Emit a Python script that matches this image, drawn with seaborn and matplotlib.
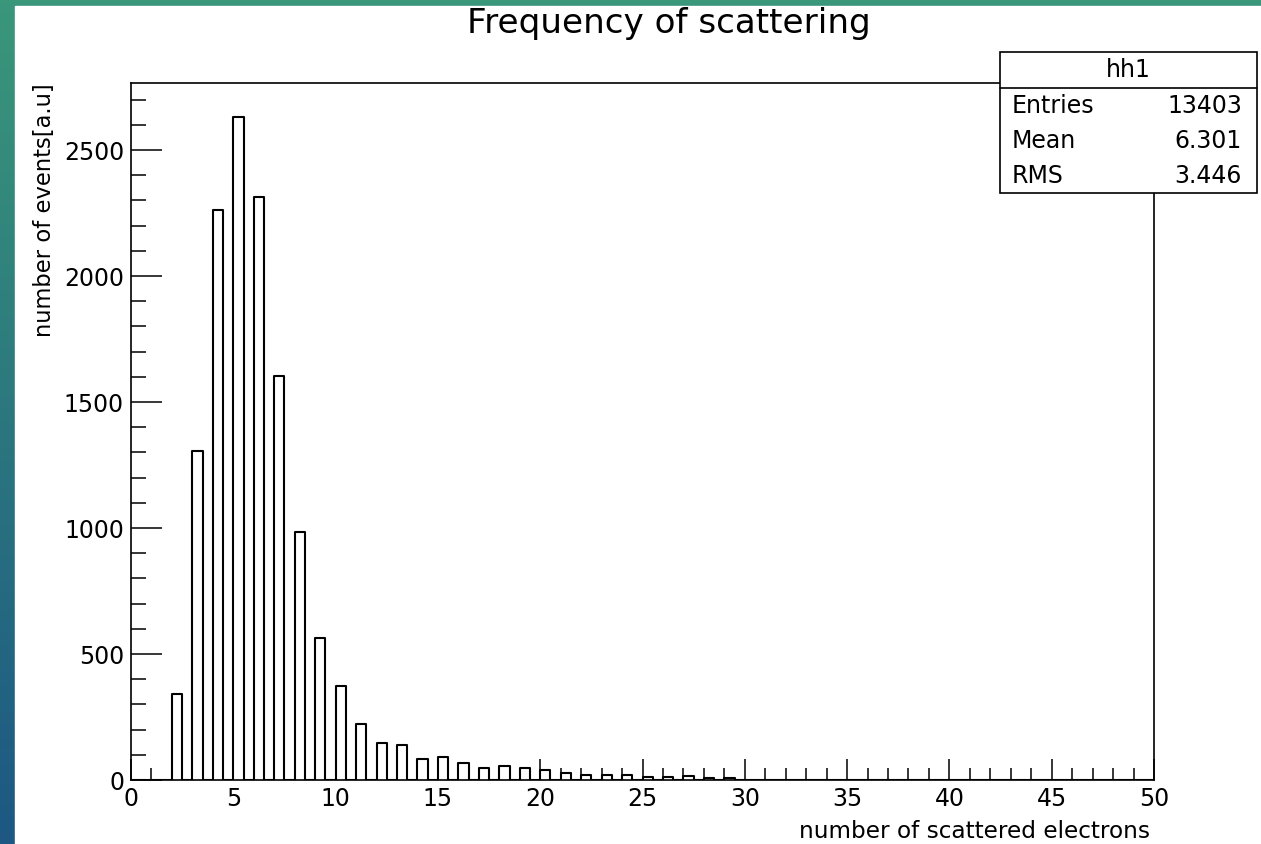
import numpy as np
import pandas as pd
import seaborn as sns
import matplotlib.pyplot as plt
from matplotlib.patches import Rectangle
from matplotlib.ticker import MultipleLocator

electrons = [2, 3, 4, 5, 6, 7, 8, 9, 10, 11, 12, 13, 14, 15, 16, 17, 18, 19,
             20, 21, 22, 23, 24, 25, 26, 27, 28, 29]
counts = [342, 1305, 2262, 2632, 2312, 1603, 984, 562, 373, 222, 148, 140,
          82, 90, 69, 46, 55, 46, 38, 26, 20, 18, 18, 10, 10, 14, 8, 8]
stats_names = ["Entries", "Mean", "RMS"]
stats_values = ["13403", "6.301", "3.446"]

df = pd.DataFrame({"electrons": electrons, "counts": counts})

sns.set_style("white")
plt.rcParams['font.family'] = ['DejaVu Sans']
for k in ['text.color', 'axes.labelcolor', 'xtick.color', 'ytick.color']:
    plt.rcParams[k] = 'black'

W, H = 1261, 844
fig = plt.figure(figsize=(W / 100, H / 100), dpi=100)

# fundo com degrade verde/azul e painel branco
bg = fig.add_axes([0, 0, 1, 1], zorder=-1)
grad = np.linspace(0, 1, 256).reshape(-1, 1)
top_c = np.array([0x3a, 0x97, 0x7a]) / 255
bot_c = np.array([0x1d, 0x57, 0x83]) / 255
img = top_c[None, None, :] * (1 - grad[:, :, None]) + bot_c[None, None, :] * grad[:, :, None]
bg.imshow(img, extent=[0, 1, 0, 1], aspect='auto', origin='upper')
bg.add_patch(Rectangle((15 / W, 0), 1, 1 - 6 / H, color='white'))
bg.set_xlim(0, 1)
bg.set_ylim(0, 1)
bg.axis('off')

ax = fig.add_axes([131 / W, 1 - 780 / H, (1154 - 131) / W, (780 - 83) / H])
sns.histplot(data=df, x="electrons", weights="counts", binwidth=0.5, binrange=(0, 50),
             element="step", fill=False, color="black", linewidth=1.5, ax=ax)

ax.set_xlim(0, 50)
ax.set_ylim(0, 2766)
for s in ax.spines.values():
    s.set_linewidth(1.2)
    s.set_color("black")

ax.xaxis.set_major_locator(MultipleLocator(5))
ax.xaxis.set_minor_locator(MultipleLocator(1))
ax.yaxis.set_major_locator(MultipleLocator(500))
ax.yaxis.set_minor_locator(MultipleLocator(100))
ax.tick_params(axis='x', which='major', direction='in', length=15, width=1.1,
               labelsize=17, pad=5, bottom=True, top=False)
ax.tick_params(axis='x', which='minor', direction='in', length=8.5, width=1.1,
               bottom=True, top=False)
ax.tick_params(axis='y', which='major', direction='in', length=22, width=1.1,
               labelsize=17, pad=5, left=True, right=False)
ax.tick_params(axis='y', which='minor', direction='in', length=11, width=1.1,
               left=True, right=False)

ax.set_xlabel("number of scattered electrons", fontsize=16.7, loc='right')
ax.set_ylabel("number of events[a.u]", fontsize=16.3, loc='top')
ax.xaxis.set_label_coords(0.996, -0.057)
ax.yaxis.set_label_coords(-0.073, 1.0)

fig.text(669 / W, 1 - 33.5 / H, "Frequency of scattering", fontsize=24.6,
         ha='center', va='baseline')

# caixa de estatisticas
def fx(px):
    return px / W

def fy(py):
    return 1 - py / H

box = Rectangle((fx(1000), fy(193)), fx(1257) - fx(1000), fy(52) - fy(193),
                transform=fig.transFigure, facecolor='white', edgecolor='black',
                linewidth=1.2, zorder=5)
fig.add_artist(box)
fig.add_artist(plt.Line2D([fx(1000), fx(1257)], [fy(88), fy(88)],
                          transform=fig.transFigure, color='black', linewidth=1.2, zorder=6))
fig.text(fx(1128), fy(70), "hh1", fontsize=17, ha='center', va='center', zorder=7)
for i, (name, val) in enumerate(zip(stats_names, stats_values)):
    yc = 106 + 35 * i
    fig.text(fx(1012), fy(yc), name, fontsize=17, ha='left', va='center', zorder=7)
    fig.text(fx(1242), fy(yc), val, fontsize=17, ha='right', va='center', zorder=7)

fig.savefig("out.png", dpi=100)
